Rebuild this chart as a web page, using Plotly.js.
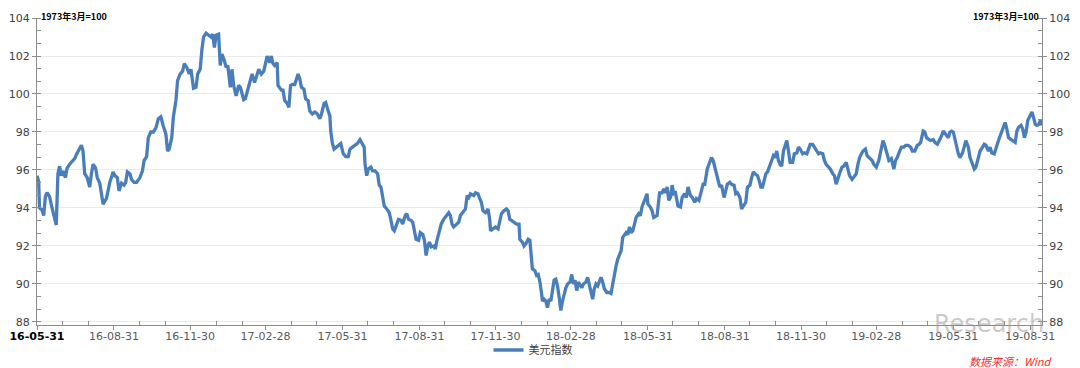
<!DOCTYPE html>
<html>
<head>
<meta charset="utf-8">
<script src="https://cdn.plot.ly/plotly-3.0.1.min.js"></script>
<style>html,body{margin:0;padding:0;background:#fff;}#chart{width:1080px;height:368px;}</style>
</head>
<body>
<div id="chart"></div>
<script>
// ---- data ----
const seriesName = '美元指数';
const unitNote = '1973年3月=100';
const sourceNote = '数据来源：Wind';
const watermark = 'Research';
const startDate = '2016-05-31';
const endDate = '2019-09-14';
// days since startDate
const dayOffsets = [
0,2,3,6,8,10,12,15,18,20,23,25,27,29,31,34,36,39,43,45,47,51,53,55,57,60,63,65,67,70,72,75,77,79,83,87,91,93,96,98,
101,104,106,108,111,113,116,119,123,126,128,131,133,136,139,142,145,148,151,154,156,158,161,163,166,168,171,174,176,179,
182,184,187,190,192,195,197,199,202,205,208,210,212,214,217,219,221,224,226,228,231,233,235,238,241,243,247,
249,252,255,257,260,263,265,268,271,273,275,278,280,282,284,287,288,292,294,296,299,301,303,305,308,312,314,316,319,321,324,326,
329,332,335,338,340,343,345,348,350,351,353,355,358,361,363,366,369,372,374,377,380,383,386,388,391,392,394,396,399,401,
404,407,409,411,413,415,418,421,423,425,427,430,432,435,437,440,442,444,447,449,451,453,456,458,461,463,465,467,469,471,
474,476,478,480,483,486,488,492,
494,496,498,502,504,506,509,512,514,516,518,522,524,527,529,531,533,536,539,541,542,545,548,551,553,555,558,561,563,565,
567,570,573,576,577,580,582,584,587,589,591,592,595,597,599,601,603,604,606,608,610,612,614,616,618,620,622,624,626,628,
630,632,634,637,639,641,643,645,647,649,651,653,656,658,660,662,664,666,668,670,672,674,676,678,681,684,686,688,690,692,
694,696,698,700,702,704,706,708,710,712,714,716,719,721,723,725,727,729,730,733,735,737,
741,743,744,747,749,751,753,755,757,759,761,763,764,766,769,771,774,776,778,781,783,786,788,791,794,796,798,801,803,806,
808,810,812,814,816,818,821,823,825,828,830,833,835,837,840,842,845,847,849,852,854,856,858,861,863,865,867,869,871,873,
876,878,880,882,884,886,888,890,892,894,896,898,900,903,905,908,910,912,915,917,920,922,924,927,929,932,934,936,939,941,
943,946,948,951,953,955,957,959,962,964,967,969,971,974,976,979,981,983,
987,990,992,995,998,1000,1003,1006,1008,1011,1013,1016,1018,1021,1024,1026,1028,1031,1033,1036,1038,1041,1044,1046,1049,
1052,1054,1056,1059,1061,1063,1066,1068,1071,1073,1076,1079,1081,1083,1086,1089,1091,1093,1095,1097,1099,1101,1103,1106,
1108,1110,1113,1115,1118,1120,1122,1125,1127,1130,1132,1134,1137,1139,1141,1144,1146,1149,1151,1153,1156,1157,1159,1161,
1164,1166,1169,1171,1173,1176,1178,1180,1182,1184,1187,1189,1191,1193,1195,1197,1199,1201
];
const dollarIndex = [
95.7,95.4,94.0,93.9,93.6,94.6,94.8,94.6,94.0,93.7,93.1,95.8,96.2,95.7,95.95,95.6,96.1,96.3,96.5,96.6,96.8,97.2,97.3,97.0,95.8,95.6,95.1,95.8,96.3,96.1,95.6,95.3,94.6,94.2,94.5,95.35,95.9,95.7,95.6,94.9,
95.3,95.2,95.35,95.9,95.8,95.5,95.35,95.35,95.6,95.95,96.5,96.7,97.7,98.0,98.0,98.2,98.7,98.8,98.3,97.9,97.0,97.1,97.7,98.8,99.65,100.7,101.05,101.2,101.6,101.4,
101.05,101.3,100.3,100.35,101.05,101.3,102.3,103.0,103.2,103.1,103.0,103.15,102.45,103.1,103.15,101.5,102.1,101.75,101.4,101.5,100.35,101.3,100.45,99.9,100.45,100.35,99.7,
99.75,100.25,100.7,101.05,100.6,100.95,101.3,101.05,101.2,101.6,102.0,101.65,102.0,101.6,101.5,101.65,100.45,100.2,100.2,99.65,99.5,99.3,100.45,100.5,100.5,101.05,100.8,100.35,100.25,99.75,99.65,99.1,
98.95,99.05,98.95,98.7,98.95,99.5,99.55,99.1,98.85,98.05,97.4,97.1,97.2,97.3,97.4,96.85,96.7,96.7,97.1,97.2,97.3,97.4,97.6,97.4,97.2,96.3,95.7,96.05,96.15,95.95,
95.95,95.8,95.2,95.1,94.65,94.1,93.95,93.75,93.35,92.9,92.8,93.15,93.4,93.35,93.15,93.6,93.7,93.4,93.35,93.25,92.8,92.35,92.3,92.7,92.6,92.3,91.5,92.0,92.2,91.95,
92.0,91.85,92.3,92.7,93.15,93.4,93.5,93.75,
93.6,93.15,93.0,93.15,93.25,93.6,93.75,93.95,94.65,94.55,94.75,94.65,94.8,94.75,94.5,94.3,93.85,93.75,93.95,93.4,92.8,92.9,93.0,92.9,93.35,93.7,93.85,93.95,93.85,93.4,
93.35,93.25,93.15,93.15,92.35,92.2,92.0,92.1,92.35,92.3,91.4,90.8,90.7,90.45,90.5,90.1,89.5,89.1,89.2,89.1,88.75,89.2,89.1,89.75,90.2,90.25,89.9,89.3,88.6,89.1,
89.5,89.8,90.0,90.1,90.5,90.0,90.2,89.65,90.1,89.9,89.8,90.0,90.1,90.35,90.0,89.5,89.2,89.75,90.0,89.9,90.1,90.35,90.1,89.75,89.55,89.55,89.5,90.0,90.6,90.95,
91.3,91.6,91.75,92.45,92.6,92.7,92.6,93.0,92.7,92.8,93.15,93.5,93.7,93.6,94.05,94.3,94.55,94.75,94.2,94.05,93.85,93.5,
93.6,94.2,94.8,94.8,95.0,94.8,95.1,94.4,94.55,95.2,94.75,94.8,94.5,94.1,94.05,94.55,94.75,94.55,95.1,94.65,94.55,94.3,94.5,94.4,94.9,95.25,95.25,96.05,96.3,96.65,
96.5,96.15,95.8,95.45,95.1,95.2,94.55,94.9,95.25,95.35,95.25,95.2,94.75,94.8,94.55,93.95,94.2,94.3,95.1,95.2,95.6,95.9,95.8,95.7,95.45,95.1,95.1,95.45,95.8,95.9,
96.2,96.5,96.75,96.65,97.0,96.5,96.3,96.2,97.0,97.35,97.55,97.0,96.4,96.4,96.85,96.9,97.2,97.1,96.85,96.9,96.85,97.1,97.35,97.35,97.2,97.0,96.85,96.9,96.85,96.5,
96.3,96.15,96.05,95.8,95.7,95.25,95.6,95.8,96.15,96.2,96.4,95.95,95.7,95.5,95.6,95.8,96.3,96.65,
97.0,97.1,96.75,96.6,96.5,96.3,96.15,96.5,97.0,97.55,97.3,96.85,96.5,96.6,96.05,96.5,96.65,97.0,97.2,97.2,97.3,97.3,97.2,97.0,97.0,
97.3,97.35,97.45,98.05,98.0,97.7,97.6,97.55,97.6,97.45,97.35,97.6,97.8,98.05,97.9,97.7,98.0,98.05,98.0,97.55,97.2,96.85,96.65,96.9,
97.2,97.55,97.2,96.65,96.3,96.05,96.15,96.65,97.0,97.2,97.35,97.3,97.0,97.2,96.9,96.85,97.2,97.55,97.8,98.05,98.35,98.5,98.15,97.7,
97.6,97.55,97.45,98.05,98.25,98.35,98.15,97.7,98.0,98.6,98.85,99.05,98.75,98.4,98.35,98.4,98.6,98.35
];
// axis ticks
const xTickVals = ['2016-05-31','2016-08-31','2016-11-30','2017-02-28','2017-05-31','2017-08-31','2017-11-30',
  '2018-02-28','2018-05-31','2018-08-31','2018-11-30','2019-02-28','2019-05-31','2019-08-31'];
const xTickText = ['<span style="color:#000;font-weight:bold">16-05-31</span>','16-08-31','16-11-30','17-02-28','17-05-31','17-08-31','17-11-30',
  '18-02-28','18-05-31','18-08-31','18-11-30','19-02-28','19-05-31','19-08-31'];
const xMinorVals = ['2016-06-30','2016-07-31','2016-09-30','2016-10-31','2016-12-31','2017-01-31','2017-03-31','2017-04-30',
  '2017-06-30','2017-07-31','2017-09-30','2017-10-31','2017-12-31','2018-01-31','2018-03-31','2018-04-30','2018-06-30',
  '2018-07-31','2018-09-30','2018-10-31','2018-12-31','2019-01-31','2019-03-31','2019-04-30','2019-06-30','2019-07-31'];
const yRange = [87.84, 104];

// ---- build ----
const t0 = Date.parse(startDate + 'T00:00:00Z');
const dates = dayOffsets.map(d => new Date(t0 + d * 86400000).toISOString().slice(0, 10));

const axisColor = '#8c8c8c';
const traces = [
  {x: dates, y: dollarIndex, yaxis: 'y2', type: 'scatter', mode: 'lines',
   line: {color: 'rgba(0,0,0,0)', width: 0}, showlegend: false, hoverinfo: 'skip'},
  {x: dates, y: dollarIndex, name: seriesName, type: 'scatter', mode: 'lines',
   line: {color: '#4a7ebb', width: 3.3}}
];

const yCommon = {
  range: yRange, autorange: false, tick0: 88, dtick: 2, tickmode: 'linear',
  ticks: 'outside', ticklen: 4, tickcolor: axisColor, tickwidth: 1,
  showline: true, linecolor: axisColor, linewidth: 1, zeroline: false, automargin: false,
  tickfont: {family: 'DejaVu Sans', size: 11, color: '#404040'},
  minor: {tick0: 88, dtick: 2/3, ticks: 'inside', ticklen: 4, tickcolor: axisColor, showgrid: false}
};

const layout = {
  width: 1080, height: 368,
  margin: {l: 37, r: 38, t: 18, b: 43, pad: 0},
  paper_bgcolor: '#ffffff', plot_bgcolor: '#ffffff',
  font: {family: 'DejaVu Sans', size: 11, color: '#404040'},
  xaxis: {
    type: 'date', range: [startDate, endDate], autorange: false, automargin: false,
    tickmode: 'array', tickvals: xTickVals, ticktext: xTickText,
    ticks: 'outside', ticklen: 4, tickcolor: axisColor, ticklabelstandoff: -3,
    showline: true, linecolor: axisColor, linewidth: 1, showgrid: false, zeroline: false,
    tickfont: {family: 'DejaVu Sans', size: 11, color: '#595959'},
    minor: {tickmode: 'array', tickvals: xMinorVals, ticks: 'inside', ticklen: 4, tickcolor: axisColor, showgrid: false}
  },
  yaxis: Object.assign({}, yCommon, {side: 'left', showgrid: true, gridcolor: '#ebebeb', gridwidth: 1}),
  yaxis2: Object.assign({}, yCommon, {side: 'right', overlaying: 'y', anchor: 'x', showgrid: false}),
  showlegend: true,
  legend: {orientation: 'h', xref: 'container', yref: 'container', x: 0.4935, xanchor: 'center',
           y: 1 - 350 / 368, yanchor: 'middle',
           font: {family: 'Noto Sans CJK SC', size: 11, color: '#404040'}, bgcolor: 'rgba(0,0,0,0)'},
  annotations: [
    {text: '<b>' + unitNote + '</b>', xref: 'paper', yref: 'paper', x: 0.002, y: 1.0065,
     xanchor: 'left', yanchor: 'middle', showarrow: false,
     font: {family: 'Noto Sans CJK SC', size: 9, color: '#000'}},
    {text: '<b>' + unitNote + '</b>', xref: 'paper', yref: 'paper', x: 0.999, y: 1.0065,
     xanchor: 'right', yanchor: 'middle', showarrow: false,
     font: {family: 'Noto Sans CJK SC', size: 9, color: '#000'}},
    {text: '<i>' + sourceNote + '</i>', xref: 'paper', yref: 'paper', x: 1.011, y: -0.117,
     xanchor: 'right', yanchor: 'middle', showarrow: false,
     font: {family: 'Noto Sans CJK SC', size: 11, color: '#ff2a2a'}},
    {text: watermark, xref: 'paper', yref: 'paper', x: 0.947, y: 0.003,
     xanchor: 'center', yanchor: 'middle', showarrow: false,
     font: {family: 'DejaVu Sans', size: 24, color: 'rgba(150,150,150,0.5)'}}
  ]
};

Plotly.newPlot('chart', traces, layout, {staticPlot: true, displayModeBar: false});
</script>
</body>
</html>
